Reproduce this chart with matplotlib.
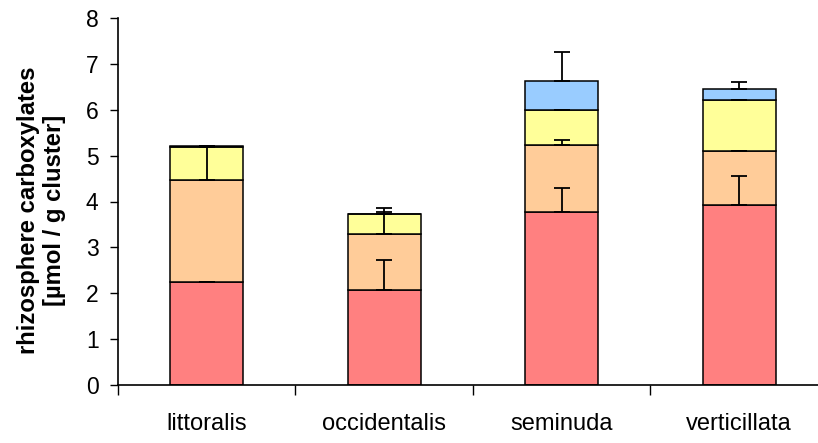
import matplotlib
matplotlib.use('Agg')
import matplotlib.pyplot as plt
import numpy as np

plt.rcParams['font.family'] = ['Liberation Sans', 'DejaVu Sans']

# data
species = ['littoralis', 'occidentalis', 'seminuda', 'verticillata']
red = [2.25, 2.07, 3.77, 3.93]
orange = [2.22, 1.22, 1.46, 1.16]
yellow = [0.72, 0.44, 0.76, 1.12]
blue = [0.02, 0.0, 0.64, 0.25]
err_red = [0.0, 0.65, 0.53, 0.63]
err_orange = [0.72, 0.48, 0.11, 0.0]
err_yellow = [0.0, 0.13, 0.0, 0.0]
err_blue = [0.0, 0.0, 0.63, 0.14]

colors = ['#FF8080', '#FFCC99', '#FFFF99', '#99CCFF']
layers = [red, orange, yellow, blue]
errs = [err_red, err_orange, err_yellow, err_blue]

fig = plt.figure(figsize=(8.18, 4.43), dpi=100)
ax = fig.add_axes([118 / 818, 58 / 443, 700 / 818, 367 / 443])

x = np.arange(len(species))
bottom = np.zeros(len(species))
tops = []
for vals, col in zip(layers, colors):
    vals = np.array(vals)
    ax.bar(x, vals, 0.41, bottom=bottom, color=col, edgecolor='black',
           linewidth=1.1, zorder=2)
    bottom = bottom + vals
    tops.append(bottom.copy())

for top, e in zip(tops, errs):
    e = np.array(e)
    ax.errorbar(x, top, yerr=[np.zeros(len(e)), e], fmt='none',
                ecolor='black', elinewidth=1.3, capsize=5.5, capthick=1.3,
                zorder=3)

ax.set_ylim(0, 8)
ax.set_xlim(-0.5, 3.444)
ax.set_yticks(range(9))
ax.tick_params(axis='y', labelsize=16.5, direction='out', length=6,
               width=1, pad=8)
ax.set_xticks(x)
ax.set_xticklabels(species, fontsize=17)
ax.tick_params(axis='x', length=0, pad=20)
ax.set_xticks(np.arange(-0.5, 3.5, 1.0), minor=True)
ax.tick_params(axis='x', which='minor', length=7, width=1, direction='out')
for s in ['top', 'right']:
    ax.spines[s].set_visible(False)
for s in ['left', 'bottom']:
    ax.spines[s].set_linewidth(1.2)

ax.set_ylabel('rhizosphere carboxylates\n[\u00b5mol / g cluster]',
              fontsize=17.2, fontweight='bold', linespacing=1.2)
ax.yaxis.set_label_coords(-0.074, 0.477)

fig.savefig('out.png', dpi=100)
